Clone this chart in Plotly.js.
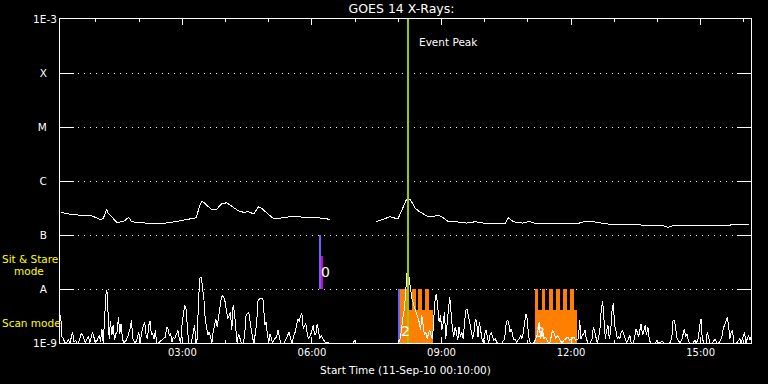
<!DOCTYPE html>
<html><head><meta charset="utf-8">
<script src="https://cdn.plot.ly/plotly-3.0.1.min.js"></script>
<style>
html,body{margin:0;padding:0;background:#000;}
#chart{width:768px;height:384px;}
.scatterlayer path.js-line{shape-rendering:crispEdges;}
</style></head><body><div id="chart"></div>
<script>
// ---- data (times in minutes after 00:00 UT, 11-Sep-2010; flux in W/m^2) ----
const xStartMin = 10, xEndMin = 970;
const tickTimes = ['03:00','06:00','09:00','12:00','15:00'];
const fluxTicks = [1e-9,1e-8,1e-7,1e-6,1e-5,1e-4,1e-3];
const fluxTickText = ['1E-9','A','B','C','M','X','1E-3'];

const longTime = [11,24,38,52,65,70,75,77,89,98,
 105.5,109.5,121.5,135.5,148.5,167.5,185.5,199.5,203.5,207.5,
 213.5,220.5,227.5,234.5,241.5,248.5,257.5,265,272,279,
 286,290,299,306,320,334,353,371,385,null,
 449.5,459.5,468.5,479.5,484.5,491.5,496.5,503.5,509.5,519.5,
 528.5,533.5,540.5,549.5,560.5,574.5,587,598,617,628,
 633,640,653,662,672,690,709,727,740.5,750.5,
 769.5,787.5,806.5,829.5,847.5,854.5,861.5,880.5,894.5,918,
 941,967];
const longFlux = [2.63e-7,2.42e-7,2.32e-7,2.34e-7,1.95e-7,2.00e-7,2.99e-7,2.52e-7,1.72e-7,1.76e-7,
 2.13e-7,1.76e-7,1.69e-7,1.65e-7,1.60e-7,1.74e-7,1.90e-7,2.09e-7,3.34e-7,4.27e-7,
 3.60e-7,2.99e-7,2.99e-7,3.75e-7,3.96e-7,3.44e-7,2.82e-7,2.63e-7,2.70e-7,2.45e-7,
 3.34e-7,3.12e-7,2.45e-7,2.04e-7,2.07e-7,2.25e-7,2.09e-7,2.07e-7,1.95e-7,null,
 1.76e-7,1.95e-7,2.18e-7,1.98e-7,2.90e-7,4.58e-7,4.58e-7,3.12e-7,2.70e-7,2.25e-7,
 2.18e-7,2.34e-7,2.18e-7,1.76e-7,1.76e-7,1.66e-7,1.76e-7,1.66e-7,1.66e-7,1.60e-7,
 2.09e-7,1.76e-7,1.66e-7,1.80e-7,1.60e-7,1.60e-7,1.60e-7,1.60e-7,1.80e-7,1.76e-7,
 1.60e-7,1.58e-7,1.53e-7,1.53e-7,1.49e-7,1.39e-7,1.49e-7,1.53e-7,1.49e-7,1.53e-7,
 1.53e-7,1.58e-7];

const shortTime = [
 10.9,12.8,14.6,16.5,18.8,22.0,23.8,25.7,27.5,29.4,
 31.7,33.5,35.8,39.5,41.4,43.2,45.1,47.8,49.7,51.5,
 53.4,55.2,57.1,58.9,61.7,64.5,66.3,68.2,70.0,72.8,
 74.2,75.5,76.9,78.3,80.1,82.0,83.8,85.7,87.5,89.4,
 91.2,93.1,94.9,96.8,98.6,
 101.9,104.7,107.4,109.3,111.1,113.9,116.7,119.4,121.3,124.0,
 125.9,127.7,129.6,131.4,133.3,135.1,137.0,138.8,140.7,142.5,
 144.3,147.1,150.8,153.6,156.3,158.2,160.0,161.9,163.7,165.6,
 167.4,169.3,172.0,173.9,175.7,177.6,179.4,181.3,183.1,185.0,
 186.8,188.7,192.4,194.6,197.0,198.8,200.7,202.5,204.4,206.2,
 208.0,209.9,211.7,213.6,215.4,217.3,219.1,221.0,222.8,224.7,
 226.5,228.3,230.2,232.0,233.9,235.7,237.6,239.4,241.3,243.1,
 245.0,246.8,248.7,
 250.5,252.3,254.2,256.0,257.9,259.7,262.1,264.8,266.7,268.5,
 270.4,272.2,274.1,275.9,277.8,279.6,281.5,283.3,285.2,287.9,
 290.7,292.5,294.4,296.2,298.1,299.9,301.8,303.6,305.5,308.2,
 311.0,312.8,314.7,316.5,321.2,323.9,326.7,328.5,330.4,332.2,
 335.0,336.8,338.7,340.5,342.4,344.2,346.1,347.9,349.8,351.6,
 353.5,355.3,358.1,359.9,361.8,363.6,365.5,367.3,369.2,371.0,
 372.8,374.7,376.5,378.4,381.1,383.9,null,
 417.2,419.0,420.8,null,
 449.5,480.4,482.7,485.0,486.9,488.7,490.6,492.4,494.0,496.1,
 498.9,501.7,504.4,507.2,509.0,510.9,512.7,514.6,516.4,518.3,
 520.1,522.0,523.8,525.7,527.5,529.3,531.2,533.0,534.9,536.7,
 538.6,540.4,542.3,544.1,546.0,547.8,549.7,551.5,553.3,555.2,
 557.0,558.9,560.7,562.6,564.4,566.3,568.1,570.0,571.8,573.7,
 575.5,577.3,579.2,581.0,
 583.4,585.2,587.1,588.9,590.8,592.6,594.5,596.3,598.2,600.0,
 601.8,603.7,605.5,607.4,609.2,611.1,612.9,614.8,616.6,618.5,
 624.0,627.7,629.5,631.4,633.2,635.1,636.9,638.8,640.6,642.5,
 644.3,646.2,648.0,649.8,651.7,653.5,655.4,657.2,659.1,660.9,
 662.8,664.6,668.3,671.1,673.8,675.7,677.5,680.3,682.2,684.9,
 687.7,690.5,692.3,694.2,696.9,698.8,701.5,704.3,707.1,709.9,
 712.6,715.4,718.2,720.9,723.7,726.5,730.2,
 732.0,733.8,735.7,737.5,739.4,741.2,743.6,746.3,749.1,751.0,
 752.8,754.7,756.5,758.3,760.2,762.0,763.9,765.7,767.6,769.4,
 771.3,773.1,775.0,776.8,778.7,780.5,782.3,784.2,786.0,787.9,
 789.7,791.6,793.4,795.3,797.1,799.9,801.7,803.6,806.3,808.2,
 810.0,811.9,813.7,815.6,817.4,819.3,821.1,823.0,824.8,826.7,
 828.5,830.3,836.8,839.6,841.4,847.0,848.8,857.1,859.9,861.7,
 863.6,865.4,867.3,869.1,871.0,873.7,875.6,877.4,879.3,881.1,
 883.0,884.8,889.4,892.2,894.0,896.8,898.7,900.5,902.3,904.7,
 907.5,909.3,911.2,913.0,915.8,918.5,920.4,922.2,925.0,927.8,
 929.6,931.5,933.3,935.2,937.0,938.8,940.7,942.5,944.4,946.2,
 949.9,952.7,954.5,956.4,959.2,961.0,962.8,964.7,966.5,968.4,970.2];
const shortFlux = [
 3.25e-9,1.29e-9,1.2e-9,1.04e-9,1e-9,1.15e-9,1e-9,1.39e-9,1.6e-9,1.04e-9,
 1.12e-9,1e-9,1e-9,1.49e-9,1.39e-9,1.2e-9,1e-9,1.2e-9,1.33e-9,1e-9,
 1.39e-9,1.6e-9,1.29e-9,1e-9,1.12e-9,1.39e-9,1.04e-9,1.84e-9,1e-9,4.32e-9,
 9.45e-9,8.8e-9,2.82e-9,1.2e-9,2.52e-9,1.39e-9,2.12e-9,1.12e-9,1.49e-9,1.6e-9,
 3.03e-9,1.49e-9,2.28e-9,1.2e-9,1e-9,
 1.12e-9,1.39e-9,1.84e-9,2.63e-9,1.2e-9,1e-9,1.12e-9,1.6e-9,1e-9,1.72e-9,
 2.12e-9,2.45e-9,1.39e-9,1.2e-9,2.12e-9,2.52e-9,1.39e-9,1.49e-9,1.2e-9,1.72e-9,
 1e-9,1e-9,1.12e-9,1.2e-9,1.29e-9,1.98e-9,1.84e-9,1.39e-9,1.49e-9,1.04e-9,
 1.29e-9,1.2e-9,1.49e-9,1.72e-9,1.2e-9,1e-9,2.12e-9,3.75e-9,4.98e-9,4.32e-9,
 2.12e-9,1e-9,1e-9,1.39e-9,2.12e-9,1e-9,1.2e-9,6.62e-9,1.6e-8,1.67e-8,
 1.17e-8,6.62e-9,2.82e-9,1.72e-9,1.39e-9,1.6e-9,1.2e-9,1e-9,1.6e-9,2.28e-9,
 2.82e-9,1.98e-9,3.25e-9,4.98e-9,6.62e-9,7.63e-9,7.11e-9,5.75e-9,4.32e-9,2.82e-9,
 3.25e-9,3.75e-9,1.72e-9,
 4.98e-9,3.75e-9,1.49e-9,1e-9,1.49e-9,1.2e-9,1e-9,1e-9,1.49e-9,3.25e-9,
 3.49e-9,3.75e-9,2.45e-9,1.6e-9,1.2e-9,1e-9,1.49e-9,2.45e-9,6.17e-9,6.62e-9,
 6.62e-9,6.17e-9,2.12e-9,2.45e-9,1.49e-9,1e-9,1.49e-9,1.2e-9,1e-9,1.2e-9,
 1.29e-9,1.72e-9,1.2e-9,1e-9,1e-9,1.2e-9,1.39e-9,1.6e-9,1.2e-9,1e-9,
 1.39e-9,1.6e-9,2.12e-9,2.82e-9,2.45e-9,3.25e-9,3.49e-9,1.84e-9,2.12e-9,2.28e-9,
 1.49e-9,1.2e-9,1.39e-9,1.72e-9,2.12e-9,1.39e-9,1.49e-9,2.28e-9,1.72e-9,1.2e-9,
 1.39e-9,1.2e-9,1.12e-9,1.04e-9,1.04e-9,1e-9,null,
 1e-9,1.12e-9,1e-9,null,
 1e-9,1e-9,1.2e-9,2.45e-9,3.25e-9,4.5e-9,1.1e-8,2.2e-8,2.0e-8,1.2e-8,
 6.62e-9,4.98e-9,3.75e-9,2.82e-9,2.45e-9,1.72e-9,3.25e-9,2.12e-9,1.39e-9,1.6e-9,
 1.2e-9,1.49e-9,1.72e-9,1.39e-9,1.2e-9,2.82e-9,6.62e-9,8.19e-9,4.32e-9,2.45e-9,
 3.25e-9,1.72e-9,2.28e-9,3.75e-9,1.2e-9,2.82e-9,4.32e-9,7.11e-9,3.25e-9,1.84e-9,
 1.29e-9,1.98e-9,1.6e-9,1.12e-9,1.98e-9,1.29e-9,1.6e-9,1.2e-9,2.12e-9,4.03e-9,
 4.32e-9,3.25e-9,2.45e-9,1.72e-9,
 1.2e-9,1.6e-9,2.82e-9,2.45e-9,1.29e-9,2.45e-9,1.49e-9,1.2e-9,1e-9,1.49e-9,
 1.72e-9,1.2e-9,1e-9,1.39e-9,1.6e-9,1.29e-9,1.12e-9,1.2e-9,1.04e-9,1e-9,
 1e-9,1.2e-9,2.12e-9,2.63e-9,2.45e-9,1.6e-9,1.84e-9,1.39e-9,1.12e-9,1.2e-9,
 1e-9,1.12e-9,1.2e-9,1.39e-9,1.2e-9,1.49e-9,2.12e-9,3.49e-9,2.82e-9,1.39e-9,
 1.04e-9,1e-9,1e-9,1.2e-9,1.6e-9,2.45e-9,1.2e-9,1.84e-9,1.2e-9,1.29e-9,
 1.04e-9,1e-9,1.29e-9,1.72e-9,1.49e-9,1.2e-9,1.39e-9,1.2e-9,1e-9,1.12e-9,
 1.2e-9,1.29e-9,1.12e-9,1.2e-9,1.29e-9,1.12e-9,1.2e-9,
 2.63e-9,1.2e-9,1.39e-9,1.49e-9,1.72e-9,1.2e-9,1e-9,1e-9,1.2e-9,1.98e-9,
 1.6e-9,1.2e-9,1e-9,1.29e-9,1.84e-9,4.32e-9,5.91e-9,2.82e-9,1.2e-9,1.72e-9,
 2.12e-9,1.2e-9,1.6e-9,3.75e-9,5.58e-9,2.12e-9,1.72e-9,1.2e-9,1.29e-9,1.2e-9,
 1.6e-9,1.72e-9,1.39e-9,1.12e-9,1e-9,1.2e-9,1.39e-9,1e-9,1e-9,1.2e-9,
 1.84e-9,1.6e-9,1.29e-9,1.72e-9,2.28e-9,1.39e-9,1.72e-9,2.12e-9,1.39e-9,1.98e-9,
 1.2e-9,1e-9,1e-9,1.12e-9,1e-9,1.07e-9,1e-9,1e-9,1.2e-9,2.63e-9,
 2.63e-9,1.72e-9,1.2e-9,1.12e-9,1e-9,1.12e-9,1.39e-9,1.84e-9,1.29e-9,1.49e-9,
 1.12e-9,1e-9,1e-9,1.12e-9,1e-9,1.2e-9,2.12e-9,2.82e-9,1.2e-9,1e-9,
 1e-9,1.6e-9,1.29e-9,1e-9,1e-9,1.12e-9,1.2e-9,1e-9,1e-9,1.12e-9,
 1.29e-9,1.84e-9,2.12e-9,2.45e-9,3.03e-9,2.12e-9,1.2e-9,1.6e-9,1.72e-9,1e-9,
 1e-9,1.12e-9,1.2e-9,1e-9,1.29e-9,1.6e-9,1e-9,1.2e-9,1.39e-9,1.12e-9,1.29e-9];

// Event peak and observing-mode bars
const eventPeakMin = 493.2;
const markerStart = [370.3, 479.0], markerEnd = [372.5, 482.8];
const markerBottom = [1e-8, 1e-9], markerTop = [1e-7, 1e-8];
const sitStareStart = [372.1], sitStareEnd = [375.3];
const sitStareBottom = [1e-8], sitStareTop = [4.08e-8];
const scanBaseStart = [482.8, 669.3], scanBaseEnd = [527.6, 728.6];
const scanBaseTop = [4.04e-9, 4.04e-9];
const scanPeakStart = [482.8, 498.6, 507.8, 517.0, 669.3, 679.3, 689.2, 698.9, 708.6, 718.6];
const scanPeakEnd   = [492.9, 504.1, 513.4, 522.5, 674.4, 684.4, 694.3, 704.0, 713.7, 723.7];
const scanPeakTop = 1e-8, scanFloor = 1e-9;
const eventLabels = ['0','2','3'];
const eventLabelMin = [373.1, 484.4, 670.7];
const eventLabelFlux = [2.07e-8, 1.67e-9, 1.60e-9];

// ---- helpers ----
function toDate(m){
  const d = new Date(Date.UTC(2010,8,11,0,0,0) + Math.round(m*60000));
  return d.toISOString().slice(0,19).replace('T',' ');
}
function hhmm(s){ const p=s.split(':'); return toDate(+p[0]*60 + +p[1]); }
function barTrace(starts, ends, bottoms, tops, color){
  return {type:'bar', x:starts.map((s,i)=>toDate((s+ends[i])/2)),
    width:starts.map((s,i)=>(ends[i]-s)*60000),
    base:bottoms, y:tops.map((t,i)=>t-bottoms[i]),
    marker:{color:color, line:{width:0}}, hoverinfo:'skip'};
}
const FONT = 'DejaVu Sans';

const traces = [
  barTrace(scanBaseStart, scanBaseEnd, scanBaseStart.map(()=>scanFloor), scanBaseTop, '#ff8000'),
  barTrace(scanPeakStart, scanPeakEnd, scanPeakStart.map(()=>scanFloor), scanPeakStart.map(()=>scanPeakTop), '#ff8000'),
  barTrace(markerStart, markerEnd, markerBottom, markerTop, '#6464ff'),
  barTrace(sitStareStart, sitStareEnd, sitStareBottom, sitStareTop, '#cc00cc'),
  {type:'scatter', mode:'lines', x:shortTime.map(t=>t===null?null:toDate(t)), y:shortFlux,
   line:{color:'#ffffff', width:1}, connectgaps:false, hoverinfo:'skip'},
  {type:'scatter', mode:'lines', x:longTime.map(t=>t===null?null:toDate(t)), y:longFlux,
   line:{color:'#ffffff', width:1}, connectgaps:false, hoverinfo:'skip'},
  {type:'scatter', mode:'lines', x:[toDate(eventPeakMin), toDate(eventPeakMin)], y:[fluxTicks[0], fluxTicks[fluxTicks.length-1]],
   line:{color:'#99cc00', width:2}, hoverinfo:'skip'}
];

const annotations = [
  {text:'Event Peak', x:toDate(eventPeakMin), xref:'x', xanchor:'left', xshift:9,
   y:0.929, yref:'paper', yanchor:'middle', showarrow:false,
   font:{family:FONT, size:10.5, color:'#ffffff'}},
  {text:'Sit & Stare', x:-0.0873, xref:'paper', xanchor:'left', y:0.260, yref:'paper', yanchor:'middle',
   showarrow:false, font:{family:FONT, size:10.5, color:'#ffff00'}},
  {text:'mode', x:-0.070, xref:'paper', xanchor:'left', y:0.222, yref:'paper', yanchor:'middle',
   showarrow:false, font:{family:FONT, size:10.5, color:'#ffff00'}},
  {text:'Scan mode', x:-0.0873, xref:'paper', xanchor:'left', y:0.0617, yref:'paper', yanchor:'middle',
   showarrow:false, font:{family:FONT, size:10.5, color:'#ffff00'}}
];
eventLabels.forEach((t,i)=>annotations.push({text:t, x:toDate(eventLabelMin[i]), xref:'x', xanchor:'left', xshift:-2,
  y:Math.log10(eventLabelFlux[i]), yref:'y', yanchor:'middle', showarrow:false,
  font:{family:FONT, size:14, color:'#ffffff'}}));

const NB = '\u00a0';
const layout = {
  width:768, height:384, paper_bgcolor:'#000000', plot_bgcolor:'#000000',
  margin:{l:60, r:17, t:19, b:41, pad:0},
  showlegend:false, hovermode:false, barmode:'overlay', bargap:0,
  title:{text:'GOES 14 X-Rays:', font:{family:FONT, size:12.5, color:'#ffffff'},
    x:401.5/768, xref:'container', xanchor:'center', y:1-9/384, yref:'container', yanchor:'middle'},
  xaxis:{type:'date', range:[toDate(xStartMin), toDate(xEndMin)],
    tickmode:'array', tickvals:tickTimes.map(hhmm), ticktext:tickTimes,
    ticks:'inside', ticklen:6, tickwidth:1, tickcolor:'#ffffff',
    showline:true, linecolor:'#ffffff', linewidth:1, mirror:'allticks',
    showgrid:false, zeroline:false,
    minor:{dtick:3600000, tick0:toDate(0), ticks:'inside', ticklen:3, tickwidth:1, tickcolor:'#ffffff', showgrid:false},
    tickfont:{family:FONT, size:10, color:'#ffffff'},
    title:{text:'Start Time (11-Sep-10 00:10:00)', font:{family:FONT, size:10.5, color:'#ffffff'}, standoff:9}},
  yaxis:{type:'log', range:[-9,-3], tickmode:'array', tickvals:fluxTicks,
    ticktext:fluxTickText.map(t=>t.length===1 ? t+NB+NB+NB : t),
    ticks:'inside', ticklen:14, tickwidth:1, tickcolor:'#ffffff',
    showline:true, linecolor:'#ffffff', linewidth:1, mirror:'allticks',
    showgrid:true, gridcolor:'#ffffff', gridwidth:1, griddash:'1px,5px', zeroline:false,
    tickfont:{family:FONT, size:10.5, color:'#ffffff'}},
  annotations:annotations
};
Plotly.newPlot('chart', traces, layout, {staticPlot:true, displayModeBar:false});
</script></body></html>
